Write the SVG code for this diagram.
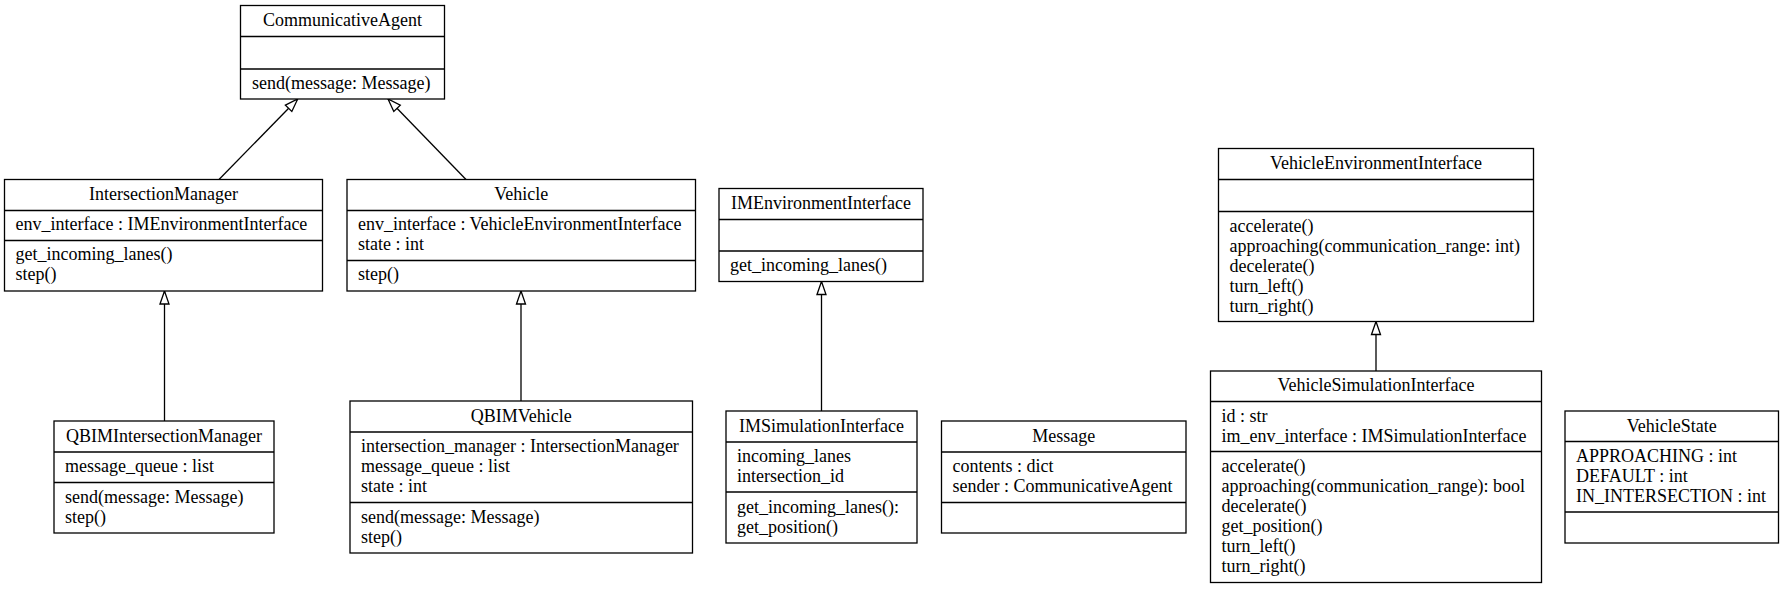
<svg xmlns="http://www.w3.org/2000/svg" width="1784" height="589" viewBox="0 0 1784 589">
<defs>
<style>
rect.box{fill:#fff;stroke:#000;stroke-width:1.3}
line.div{stroke:#000;stroke-width:1.3}
text{font-family:"Liberation Serif","Times New Roman",serif;font-size:18px;fill:#000}
text.t{text-anchor:middle}
line.edge{stroke:#000;stroke-width:1.3;marker-end:url(#tri)}
</style>
<marker id="tri" markerUnits="userSpaceOnUse" markerWidth="16" markerHeight="12" viewBox="0 0 16 12" refX="14.5" refY="6" orient="auto">
<path d="M1.5,1.5 L14.5,6 L1.5,10.5 Z" fill="#fff" stroke="#000" stroke-width="1.3"/>
</marker>
</defs>
<rect width="1784" height="589" fill="#fff"/>

<g id="connectors">
<line class="edge" x1="219" y1="179.5" x2="297.7" y2="99"/>
<line class="edge" x1="466" y1="179.5" x2="388" y2="99"/>
<line class="edge" x1="164.5" y1="421" x2="164.5" y2="291"/>
<line class="edge" x1="521" y1="401" x2="521" y2="291"/>
<line class="edge" x1="821.5" y1="411" x2="821.5" y2="281.5"/>
<line class="edge" x1="1376" y1="371" x2="1376" y2="321.5"/>
</g>

<g id="CommunicativeAgent">
<rect class="box" x="240.5" y="5.5" width="204" height="93.5"/>
<line class="div" x1="240.5" y1="36.5" x2="444.5" y2="36.5"/>
<line class="div" x1="240.5" y1="69" x2="444.5" y2="69"/>
<text class="t" x="342.5" y="25.5">CommunicativeAgent</text>
<text x="252" y="88.5">send(message: Message)</text>
</g>

<g id="IntersectionManager">
<rect class="box" x="4.5" y="179.5" width="318" height="111.5"/>
<line class="div" x1="4.5" y1="210.5" x2="322.5" y2="210.5"/>
<line class="div" x1="4.5" y1="240.5" x2="322.5" y2="240.5"/>
<text class="t" x="163.5" y="199.5">IntersectionManager</text>
<text x="15.5" y="230">env_interface : IMEnvironmentInterface</text>
<text x="15.5" y="260">get_incoming_lanes()</text>
<text x="15.5" y="280">step()</text>
</g>

<g id="Vehicle">
<rect class="box" x="347" y="179.5" width="348.5" height="111.5"/>
<line class="div" x1="347" y1="210.5" x2="695.5" y2="210.5"/>
<line class="div" x1="347" y1="260.5" x2="695.5" y2="260.5"/>
<text class="t" x="521.25" y="199.5">Vehicle</text>
<text x="358" y="230">env_interface : VehicleEnvironmentInterface</text>
<text x="358" y="250">state : int</text>
<text x="358" y="280">step()</text>
</g>

<g id="IMEnvironmentInterface">
<rect class="box" x="719" y="188.5" width="204" height="93"/>
<line class="div" x1="719" y1="219.5" x2="923" y2="219.5"/>
<line class="div" x1="719" y1="251" x2="923" y2="251"/>
<text class="t" x="821" y="208.5">IMEnvironmentInterface</text>
<text x="730" y="271">get_incoming_lanes()</text>
</g>

<g id="VehicleEnvironmentInterface">
<rect class="box" x="1218.5" y="148.5" width="315" height="173"/>
<line class="div" x1="1218.5" y1="179.5" x2="1533.5" y2="179.5"/>
<line class="div" x1="1218.5" y1="211.5" x2="1533.5" y2="211.5"/>
<text class="t" x="1376" y="168.5">VehicleEnvironmentInterface</text>
<text x="1229.5" y="231.5">accelerate()</text>
<text x="1229.5" y="251.5">approaching(communication_range: int)</text>
<text x="1229.5" y="271.5">decelerate()</text>
<text x="1229.5" y="291.5">turn_left()</text>
<text x="1229.5" y="311.5">turn_right()</text>
</g>

<g id="QBIMIntersectionManager">
<rect class="box" x="54" y="421" width="220" height="112"/>
<line class="div" x1="54" y1="452" x2="274" y2="452"/>
<line class="div" x1="54" y1="482.5" x2="274" y2="482.5"/>
<text class="t" x="164" y="441.5">QBIMIntersectionManager</text>
<text x="65" y="472">message_queue : list</text>
<text x="65" y="502.5">send(message: Message)</text>
<text x="65" y="522.5">step()</text>
</g>

<g id="QBIMVehicle">
<rect class="box" x="350" y="401" width="342.5" height="152"/>
<line class="div" x1="350" y1="432" x2="692.5" y2="432"/>
<line class="div" x1="350" y1="502.5" x2="692.5" y2="502.5"/>
<text class="t" x="521.25" y="421.5">QBIMVehicle</text>
<text x="361" y="452">intersection_manager : IntersectionManager</text>
<text x="361" y="472">message_queue : list</text>
<text x="361" y="492">state : int</text>
<text x="361" y="522.5">send(message: Message)</text>
<text x="361" y="542.5">step()</text>
</g>

<g id="IMSimulationInterface">
<rect class="box" x="726" y="411" width="191" height="132"/>
<line class="div" x1="726" y1="442" x2="917" y2="442"/>
<line class="div" x1="726" y1="492" x2="917" y2="492"/>
<text class="t" x="821.5" y="431.5">IMSimulationInterface</text>
<text x="737" y="462">incoming_lanes</text>
<text x="737" y="482">intersection_id</text>
<text x="737" y="512.5">get_incoming_lanes():</text>
<text x="737" y="532.5">get_position()</text>
</g>

<g id="Message">
<rect class="box" x="941.5" y="421" width="244.5" height="112"/>
<line class="div" x1="941.5" y1="452" x2="1186" y2="452"/>
<line class="div" x1="941.5" y1="502.5" x2="1186" y2="502.5"/>
<text class="t" x="1063.75" y="441.5">Message</text>
<text x="952.5" y="472">contents : dict</text>
<text x="952.5" y="492">sender : CommunicativeAgent</text>
</g>

<g id="VehicleSimulationInterface">
<rect class="box" x="1210.5" y="371" width="331" height="211.5"/>
<line class="div" x1="1210.5" y1="401.5" x2="1541.5" y2="401.5"/>
<line class="div" x1="1210.5" y1="451.5" x2="1541.5" y2="451.5"/>
<text class="t" x="1376" y="391">VehicleSimulationInterface</text>
<text x="1221.5" y="421.5">id : str</text>
<text x="1221.5" y="441.5">im_env_interface : IMSimulationInterface</text>
<text x="1221.5" y="471.5">accelerate()</text>
<text x="1221.5" y="491.5">approaching(communication_range): bool</text>
<text x="1221.5" y="511.5">decelerate()</text>
<text x="1221.5" y="531.5">get_position()</text>
<text x="1221.5" y="551.5">turn_left()</text>
<text x="1221.5" y="571.5">turn_right()</text>
</g>

<g id="VehicleState">
<rect class="box" x="1565" y="411" width="213.5" height="132"/>
<line class="div" x1="1565" y1="441.5" x2="1778.5" y2="441.5"/>
<line class="div" x1="1565" y1="512" x2="1778.5" y2="512"/>
<text class="t" x="1671.75" y="431.5">VehicleState</text>
<text x="1576" y="462">APPROACHING : int</text>
<text x="1576" y="482">DEFAULT : int</text>
<text x="1576" y="502">IN_INTERSECTION : int</text>
</g>
</svg>
